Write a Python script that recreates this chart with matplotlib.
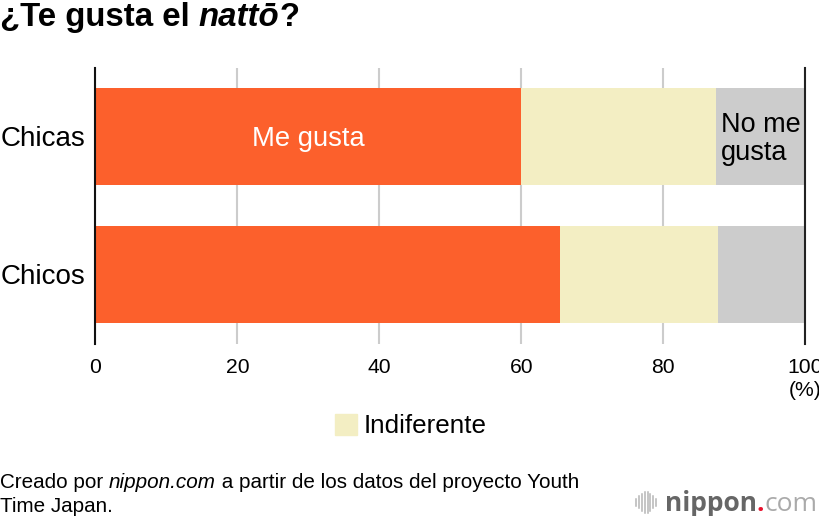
import matplotlib
matplotlib.use("Agg")
import matplotlib.pyplot as plt
from matplotlib.patches import Patch

plt.rcParams['font.family'] = ['Liberation Sans', 'DejaVu Sans']

categories = ['Chicas', 'Chicos']
me_gusta = [60.0, 65.5]
indiferente = [27.5, 22.2]
no_me_gusta = [12.5, 12.3]
xticks = [0, 20, 40, 60, 80, 100]
ORANGE, CREAM, GREY = '#fc602c', '#f3eec3', '#cccccc'
W, H = 820, 516

fig = plt.figure(figsize=(W/100, H/100), dpi=100)
ax = fig.add_axes([95.5/W, 1-344/H, (805-95.5)/W, (344-68)/H])
ypos = [0, 1]
left2 = [a for a in me_gusta]
left3 = [a+b for a, b in zip(me_gusta, indiferente)]
ax.barh(ypos, me_gusta, height=0.703, color=ORANGE, zorder=3)
ax.barh(ypos, indiferente, left=left2, height=0.703, color=CREAM, zorder=3)
ax.barh(ypos, no_me_gusta, left=left3, height=0.703, color=GREY, zorder=3)
ax.set_xlim(0, 100)
ax.set_ylim((344-136.5)/138, (68-136.5)/138)
ax.set_yticks(ypos, categories, fontsize=20)
ax.set_xticks(xticks, [str(t) for t in xticks], fontsize=15.2)
ax.tick_params(axis='both', length=0)
ax.tick_params(axis='y', pad=7)
ax.tick_params(axis='x', pad=10)
ax.grid(axis='x', color='#cccccc', lw=1.5, zorder=1)
for s in ['top', 'bottom']:
    ax.spines[s].set_visible(False)
ax.spines['left'].set_color('#111111'); ax.spines['left'].set_linewidth(1.5); ax.spines['left'].set_zorder(5)
ax.spines['right'].set_color('#222222'); ax.spines['right'].set_linewidth(1.5); ax.spines['right'].set_zorder(5)

ax.text(30, 0.015, 'Me gusta', color='white', fontsize=19.7, ha='center', va='center', zorder=6)
ax.text(88.2, 0.018, 'No me\ngusta', color='black', fontsize=19.5, ha='left', va='center', linespacing=1.08, zorder=6)

fig.text(805/W, 1-391/H, '(%)', fontsize=15.2, ha='center', va='center')

# Title in three pieces
t1 = fig.text(0/W, 1-17/H, '¿Te gusta el ', fontsize=23.8, fontweight='bold', va='center', ha='left')
t2 = plt.annotate('nattō', xy=(1, 0), xycoords=t1, xytext=(0, 0), textcoords='offset points',
                  fontsize=23.8, fontweight='bold', style='italic', va='bottom', ha='left', annotation_clip=False)
plt.annotate('?', xy=(1, 0), xycoords=t2, xytext=(0, 0), textcoords='offset points',
             fontsize=23.8, fontweight='bold', va='bottom', ha='left', annotation_clip=False)

# Legend
fig.legend(handles=[Patch(color=CREAM, label='Indiferente')], loc='center left',
           bbox_to_anchor=(330/W, 1-426/H), frameon=False, fontsize=18.7,
           handlelength=0.85, handleheight=0.85, handletextpad=0.24, borderpad=0.2, borderaxespad=0)

# Footer
FS = 14.9
f1 = fig.text(0/W, 1-483/H, 'Creado por ', fontsize=FS, va='center', ha='left')
f2 = plt.annotate('nippon.com', xy=(1, 0), xycoords=f1, xytext=(0, 0), textcoords='offset points',
                  fontsize=FS, style='italic', va='bottom', ha='left', annotation_clip=False)
plt.annotate(' a partir de los datos del proyecto Youth', xy=(1, 0), xycoords=f2, xytext=(0, 0),
             textcoords='offset points', fontsize=FS, va='bottom', ha='left', annotation_clip=False)
fig.text(0/W, 1-506.5/H, 'Time Japan.', fontsize=FS, va='center', ha='left')

# Logo
logo_h = [7, 12, 17, 21, 21, 17, 12, 7]
for i, h in enumerate(logo_h):
    x = (636 + i*2.9)/W
    fig.add_artist(plt.Line2D([x, x], [1-(502-h/2)/H, 1-(502+h/2)/H], color='#b5b5b5', lw=1.1))
l1 = fig.text(665/W, 1-511/H, 'nippon', fontsize=19, fontweight='bold', color='#666666', family='Open Sans', va='baseline')
l2 = plt.annotate('.', xy=(1, 0), xycoords=l1, xytext=(0, 0), textcoords='offset points', fontsize=19,
                  fontweight='bold', color='#e8112d', family='Open Sans', va='bottom', annotation_clip=False)
plt.annotate('com', xy=(1, 0), xycoords=l2, xytext=(0, 0), textcoords='offset points', fontsize=19,
             color='#aaaaaa', family='Open Sans', va='bottom', annotation_clip=False)

fig.savefig('out.png', dpi=100)
